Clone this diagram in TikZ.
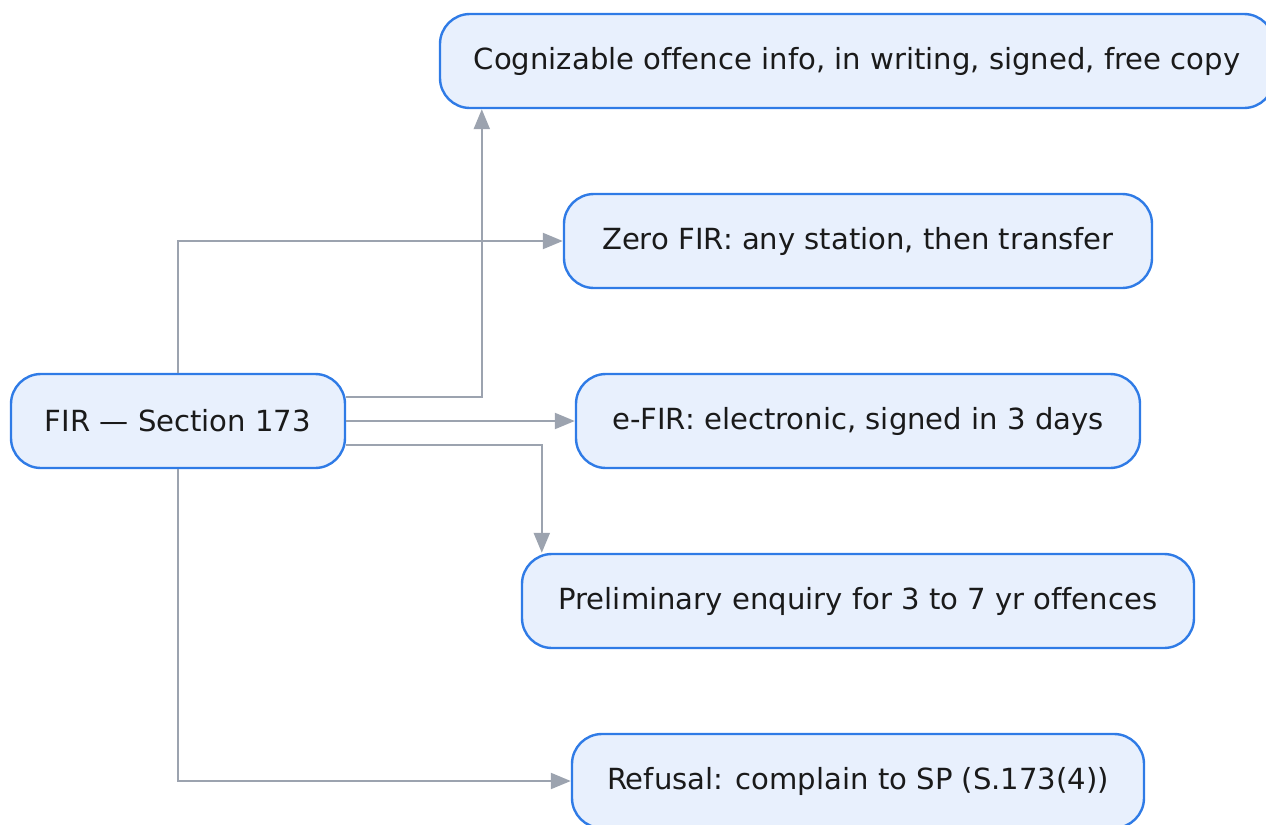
\documentclass[tikz,border=0pt]{standalone}
\usepackage{fontspec}
\setmainfont{DejaVu Sans}[Ligatures=NoCommon]
\usetikzlibrary{arrows.meta}
\definecolor{boxfill}{HTML}{E8F0FD}
\definecolor{boxline}{HTML}{2F7BE6}
\definecolor{edgecol}{HTML}{9CA3AF}
\definecolor{txt}{HTML}{1A1A1A}
\begin{document}
\begin{tikzpicture}[x=0.5pt,y=-0.5pt,
  box/.style={draw=boxline, fill=boxfill, line width=1.2pt, rounded corners=15pt,
    minimum height=47pt, inner sep=0pt, text=txt,
    font=\fontsize{14.55}{17}\selectfont},
  conn/.style={draw=edgecol, line width=1.1pt, -{Triangle[length=10pt,width=8pt]}}]
\useasboundingbox (0,0) rectangle (1266,825);
\node[box, minimum width=167pt] (fir) at (178,421) {FIR — Section 173};
\node[box, minimum width=417pt] (cog) at (857,61) {Cognizable offence info, in writing, signed, free copy};
\node[box, minimum width=294pt] (zero) at (858,241) {Zero FIR: any station, then transfer};
\node[box, minimum width=282pt] (efir) at (858,421) {e-FIR: electronic, signed in 3 days};
\node[box, minimum width=336pt] (prel) at (858,601) {Preliminary enquiry for 3 to 7 yr offences};
\node[box, minimum width=286pt] (ref) at (858,781) {Refusal: complain to SP (S.173(4))};
\draw[conn] ([yshift=12pt]fir.east) -| ([xshift=21.5pt]cog.south west);
\draw[conn] (fir.north) |- (zero.west);
\draw[conn] (fir.east) -- (efir.west);
\draw[conn] ([yshift=-12pt]fir.east) -| ([xshift=10.5pt]prel.north west);
\draw[conn] (fir.south) |- (ref.west);
\end{tikzpicture}
\end{document}
